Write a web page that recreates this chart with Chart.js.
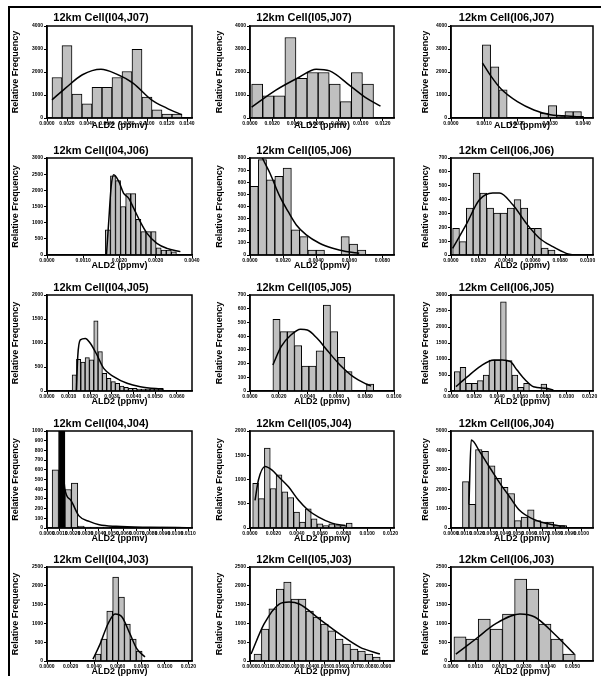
<!DOCTYPE html>
<html>
<head>
<meta charset="utf-8">
<script src="https://cdn.jsdelivr.net/npm/chart.js@4"></script>
<style>
  html, body { margin: 0; padding: 0; background: #fff; }
  body { width: 601px; height: 676px; position: relative; overflow: hidden; }
  #frame { position: absolute; left: 8px; top: 6px; width: 600px; height: 680px; border-left: 2px solid #000; border-top: 2px solid #000; }
  canvas { position: absolute; }
</style>
</head>
<body>
<div id="frame"></div>
<script>
// panel titles, row by row
const titles = [
    '12km Cell(I04,J07)', '12km Cell(I05,J07)', '12km Cell(I06,J07)',
    '12km Cell(I04,J06)', '12km Cell(I05,J06)', '12km Cell(I06,J06)',
    '12km Cell(I04,J05)', '12km Cell(I05,J05)', '12km Cell(I06,J05)',
    '12km Cell(I04,J04)', '12km Cell(I05,J04)', '12km Cell(I06,J04)',
    '12km Cell(I04,J03)', '12km Cell(I05,J03)', '12km Cell(I06,J03)'
]
const xTitle = 'ALD2 (ppmv)'
const yTitle = 'Relative Frequency'

// axis ranges and histogram bins (ppmv)
const xMax = [0.0145, 0.013, 0.0043, 0.004, 0.0087, 0.0104, 0.0067, 0.01, 0.0123, 0.0113, 0.0123, 0.0109, 0.0123, 0.0097, 0.00585]
const xStep = [0.002, 0.002, 0.001, 0.001, 0.002, 0.002, 0.001, 0.002, 0.002, 0.001, 0.002, 0.001, 0.002, 0.001, 0.001]
const binStart = [0.0005, 0.00015, 0.00095, 0.00161, 0, 0.00012, 0.00116, 0.00159, 0.00029, 0.0004, 0.00023, 0.00088, 0.00407, 0.00027, 0.00012]
const binWidth = [0.001, 0.001, 0.00025, 0.00014, 0.0005, 0.0005, 0.0002, 0.0005, 0.0005, 0.0005, 0.0005, 0.0005, 0.0005, 0.0005, 0.0005]
const yMax = [4000, 4000, 4000, 3000, 800, 700, 2000, 700, 3000, 1000, 2000, 5000, 2500, 2500, 2500]
const yStep = [1000, 1000, 1000, 500, 100, 100, 500, 100, 500, 100, 500, 1000, 500, 500, 500]

// bar heights and fitted curves
const bars_I04_J07 = [1760, 3150, 1040, 620, 1330, 1330, 1760, 2020, 2990, 910, 360, 170, 170]
const fitX_I04_J07 = [0.0005, 0.00185, 0.00354, 0.0054, 0.00691, 0.0086, 0.01045, 0.01197, 0.01349]
const fitY_I04_J07 = [790, 1300, 1880, 2120, 1920, 1520, 790, 430, 140]

const bars_I05_J07 = [1480, 960, 960, 3500, 1720, 1980, 1980, 1480, 710, 1980, 1480]
const fitX_I05_J07 = [0.00015, 0.0023, 0.00444, 0.00597, 0.00719, 0.00902, 0.01055, 0.01178]
const fitY_I05_J07 = [470, 1200, 1770, 2120, 2050, 1410, 850, 520]

const bars_I06_J07 = [3180, 2230, 1230, 0, 0, 0, 0, 210, 540, 110, 280, 280]
const fitX_I06_J07 = [0.00095, 0.0012, 0.00151, 0.00201, 0.00251, 0.00301, 0.00372, 0.00402]
const fitY_I06_J07 = [2400, 1840, 1270, 710, 350, 140, 70, 50]

const bars_I04_J06 = [775, 2450, 2300, 1500, 1900, 1900, 1100, 725, 725, 725, 225, 150, 150, 100]
const fitX_I04_J06 = [0.00164, 0.0017, 0.00177, 0.00184, 0.00198, 0.00211, 0.00225, 0.00239, 0.00257, 0.00276, 0.00303, 0.00331, 0.00368]
const fitY_I04_J06 = [0, 985, 2120, 2485, 2275, 1915, 1760, 1450, 1035, 670, 360, 205, 105]

const bars_I05_J06 = [566, 786, 620, 648, 717, 207, 152, 41, 41, 0, 0, 152, 91, 41]
const fitX_I05_J06 = [0.0003, 0.0005, 0.0008, 0.0012, 0.0018, 0.0023, 0.0028, 0.0034, 0.0042, 0.005, 0.0058, 0.0066]
const fitY_I05_J06 = [1000, 880, 786, 676, 483, 359, 248, 166, 97, 55, 28, 14]

const bars_I06_J06 = [193, 97, 338, 591, 447, 338, 302, 302, 338, 400, 338, 193, 193, 50, 35]
const fitX_I06_J06 = [0.00012, 0.0011, 0.00208, 0.00306, 0.00355, 0.00453, 0.00551, 0.00648, 0.00746, 0.00844, 0.00893]
const fitY_I06_J06 = [48, 217, 398, 447, 447, 362, 229, 121, 60, 12, 0]

const bars_I04_J05 = [335, 660, 600, 695, 650, 1460, 820, 370, 265, 195, 160, 105, 75, 55, 55, 40, 40, 40, 40, 40, 55]
const fitX_I04_J05 = [0.00136, 0.00142, 0.00154, 0.00177, 0.002, 0.00231, 0.00262, 0.00308, 0.0037, 0.00431, 0.00539]
const fitY_I04_J05 = [0, 715, 1065, 1095, 995, 750, 470, 300, 160, 90, 35]

const bars_I05_J05 = [523, 433, 433, 331, 182, 182, 292, 627, 433, 245, 141, 0, 0, 51]
const fitX_I05_J05 = [0.00159, 0.00216, 0.00284, 0.00352, 0.00398, 0.00466, 0.00534, 0.00625, 0.00716, 0.00807, 0.00841]
const fitY_I05_J05 = [190, 323, 408, 450, 445, 384, 299, 190, 105, 51, 36]

const bars_I06_J05 = [605, 740, 240, 240, 325, 500, 970, 970, 2790, 950, 500, 115, 240, 0, 0, 220, 50]
const fitX_I06_J05 = [0.00043, 0.00143, 0.00257, 0.00372, 0.00443, 0.00515, 0.00572, 0.00644, 0.00715, 0.00829, 0.00887]
const fitY_I06_J05 = [135, 450, 780, 970, 970, 915, 655, 345, 135, 85, 30]

const bars_I04_J04 = [600, 1050, 397, 464, 20, 10, 10, 10, 10, 0, 0, 0, 0, 0, 0, 0, 0, 10, 10, 10]
const fitX_I04_J04 = [0.00105, 0.00139, 0.00184, 0.00249, 0.00329, 0.00407, 0.00539, 0.00802, 0.0109]
const fitY_I04_J04 = [1100, 407, 288, 125, 68, 34, 17, 7, 3]

const bars_I05_J04 = [920, 605, 1650, 815, 1095, 745, 625, 330, 120, 395, 190, 85, 50, 85, 50, 50, 100]
const fitX_I05_J04 = [0.00043, 0.00072, 0.00129, 0.00186, 0.00243, 0.00329, 0.00415, 0.005, 0.00586, 0.007, 0.00815]
const fitY_I05_J04 = [570, 990, 1270, 1200, 1060, 850, 570, 360, 225, 100, 50]

const bars_I06_J04 = [2390, 1220, 4040, 3950, 3200, 2560, 2090, 1780, 380, 560, 940, 380, 300, 300, 120, 120]
const fitX_I06_J04 = [0.00138, 0.00155, 0.00226, 0.00301, 0.00376, 0.00451, 0.00526, 0.00627, 0.00727, 0.00827, 0.00877]
const fitY_I06_J04 = [1220, 4530, 3870, 3080, 2300, 1600, 910, 470, 240, 120, 90]

const bars_I04_J03 = [185, 585, 1330, 2235, 1700, 985, 585, 265]
const fitX_I04_J03 = [0.0039, 0.0045, 0.00517, 0.00577, 0.00636, 0.00704, 0.00763, 0.00831]
const fitY_I04_J03 = [50, 450, 985, 1250, 1170, 720, 320, 105]

const bars_I05_J03 = [185, 850, 1385, 1915, 2100, 1650, 1650, 1330, 1170, 985, 800, 585, 450, 320, 265, 185, 105]
const fitX_I05_J03 = [0.00007, 0.00095, 0.00197, 0.00264, 0.00332, 0.00468, 0.00603, 0.00739, 0.00875]
const fitY_I05_J03 = [185, 985, 1515, 1570, 1515, 1115, 720, 370, 185]

const bars_I06_J03 = [640, 585, 1115, 850, 1250, 2180, 1915, 985, 585, 185]
const fitX_I06_J03 = [0.0002, 0.00102, 0.00183, 0.00284, 0.00345, 0.00426, 0.00508]
const fitY_I06_J03 = [185, 585, 985, 1250, 1170, 720, 185]

const allBars = [bars_I04_J07, bars_I05_J07, bars_I06_J07, bars_I04_J06, bars_I05_J06, bars_I06_J06,
    bars_I04_J05, bars_I05_J05, bars_I06_J05, bars_I04_J04, bars_I05_J04, bars_I06_J04,
    bars_I04_J03, bars_I05_J03, bars_I06_J03]
const allFitX = [fitX_I04_J07, fitX_I05_J07, fitX_I06_J07, fitX_I04_J06, fitX_I05_J06, fitX_I06_J06,
    fitX_I04_J05, fitX_I05_J05, fitX_I06_J05, fitX_I04_J04, fitX_I05_J04, fitX_I06_J04,
    fitX_I04_J03, fitX_I05_J03, fitX_I06_J03]
const allFitY = [fitY_I04_J07, fitY_I05_J07, fitY_I06_J07, fitY_I04_J06, fitY_I05_J06, fitY_I06_J06,
    fitY_I04_J05, fitY_I05_J05, fitY_I06_J05, fitY_I04_J04, fitY_I05_J04, fitY_I06_J04,
    fitY_I04_J03, fitY_I05_J03, fitY_I06_J03]

// page layout: plot boxes of the grid
const colLeft = [47, 250, 451]
const colRight = [192, 394, 593]
const rowTop = [26, 158, 295, 431, 567]
const rowBottom = [118, 255, 391, 528, 661]
const yTitleGap = [32, 31, 26]
const xTitleGap = [8, 11, 11, 11, 11]
const titlePadBottom = [1.8, 0.8, 0.8, 0.8, 0.8]

Chart.defaults.font.family = "'Liberation Sans', Arial, sans-serif"
Chart.defaults.color = '#000'

// draws the top and right edges of the plot box
const boxPlugin = {
    id: 'box',
    afterDatasetsDraw(chart) {
        const a = chart.chartArea
        const ctx = chart.ctx
        ctx.save()
        ctx.strokeStyle = '#000'
        ctx.lineWidth = 1.5
        ctx.strokeRect(a.left, a.top, a.right - a.left, a.bottom - a.top)
        ctx.restore()
    }
}

for (let p = 0; p < 15; p++) {
    const r = Math.floor(p / 3)
    const c = p % 3
    const yw = Math.round(yTitleGap[c] + 5.4)
    const xh = Math.round(xTitleGap[r] + 5.4)
    const th = Math.round(2 + 13.2 + titlePadBottom[r])
    const rightPad = 8
    const w = yw + (colRight[c] - colLeft[c]) + rightPad
    const h = th + (rowBottom[r] - rowTop[r]) + xh

    const cv = document.createElement('canvas')
    cv.width = w
    cv.height = h
    cv.style.left = (colLeft[c] - yw) + 'px'
    cv.style.top = (rowTop[r] - th) + 'px'
    document.body.appendChild(cv)

    const top = yMax[p]
    const barData = allBars[p].map((v, i) => ({ x: binStart[p] + (i + 0.5) * binWidth[p], y: v }))
    const fitData = allFitX[p].map((x, i) => ({ x: x, y: allFitY[p][i] }))

    new Chart(cv.getContext('2d'), {
        type: 'bar',
        data: {
            datasets: [
                {
                    type: 'line',
                    data: fitData,
                    borderColor: '#000',
                    borderWidth: 1.5,
                    pointRadius: 0,
                    tension: 0.4,
                    cubicInterpolationMode: 'monotone',
                    fill: false,
                    order: 0
                },
                {
                    type: 'bar',
                    data: barData,
                    backgroundColor: (ctx) => (ctx.raw && ctx.raw.y > top) ? '#000' : '#c0c0c0',
                    borderColor: '#000',
                    borderWidth: 1,
                    barPercentage: 1,
                    categoryPercentage: 1,
                    order: 1
                }
            ]
        },
        options: {
            responsive: false,
            animation: false,
            layout: { padding: { top: 0, left: 0, right: rightPad, bottom: 0 } },
            plugins: {
                legend: { display: false },
                tooltip: { enabled: false },
                title: {
                    display: true,
                    text: titles[p],
                    font: { size: 11, weight: 'bold' },
                    padding: { top: 2, bottom: titlePadBottom[r] }
                }
            },
            scales: {
                x: {
                    type: 'linear',
                    offset: false,
                    min: 0,
                    max: xMax[p],
                    grid: { display: true, drawOnChartArea: false, drawTicks: true, tickLength: 3, color: '#000', offset: false },
                    border: { display: true, color: '#000', width: 1.5 },
                    ticks: {
                        font: { size: 5, weight: 'bold' },
                        padding: 0,
                        maxRotation: 0,
                        includeBounds: false,
                        autoSkip: false,
                        stepSize: xStep[p],
                        callback: (v) => v.toFixed(4)
                    },
                    title: { display: true, text: xTitle, font: { size: 9, weight: 'bold' }, padding: 0 },
                    afterFit: (s) => { s.height = xh }
                },
                y: {
                    min: 0,
                    max: top,
                    grid: { display: true, drawOnChartArea: false, drawTicks: true, tickLength: 3, color: '#000' },
                    border: { display: true, color: '#000', width: 1.5 },
                    ticks: { stepSize: yStep[p], font: { size: 5, weight: 'bold' }, padding: 1, callback: (v) => String(v) },
                    title: { display: true, text: yTitle, font: { size: 9, weight: 'bold' }, padding: 0 },
                    afterFit: (s) => { s.width = yw }
                }
            }
        },
        plugins: [boxPlugin]
    })
}
</script>
</body>
</html>
